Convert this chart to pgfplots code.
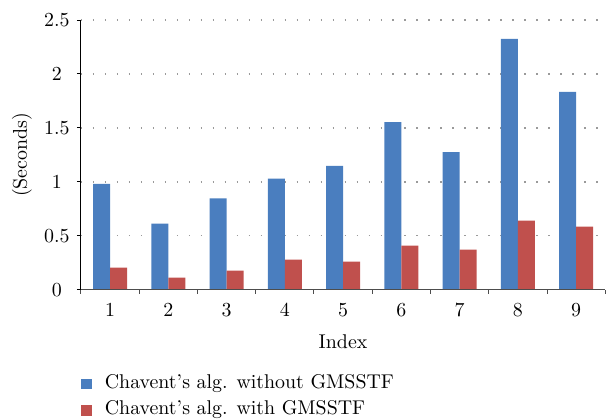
\documentclass[border=0pt]{standalone}
\usepackage{fontspec}
\setmainfont{lmroman10-regular.otf}
\usepackage{pgfplots}
\pgfplotsset{compat=1.18}
\definecolor{cblue}{HTML}{4A7EBF}
\definecolor{cred}{HTML}{C0504D}
\definecolor{cgrid}{HTML}{9A9A9A}
\definecolor{caxis}{HTML}{4D4D4D}
\newcommand{\bigf}{\fontsize{20}{24}\selectfont}
\pgfplotsset{myleg/.style={legend image code/.code={\fill[##1] (0bp,-5.5bp) rectangle (11bp,5.5bp);}}}
\begin{document}
\begin{tikzpicture}
\path (0,0) rectangle (606bp,419bp);
\begin{axis}[
  at={(81bp,129bp)}, anchor=south west,
  scale only axis, width=525bp, height=270bp,
  xmin=0.5, xmax=9.5, ymin=0, ymax=2.5,
  ybar=0pt, bar width=17bp,
  axis x line*=bottom, axis y line*=left,
  x axis line style={draw=caxis, line width=1.6bp, -},
  y axis line style={draw=black, line width=0.9bp, -},
  xtick={1,...,9},
  minor xtick={0.5,1.5,...,9.5},
  major x tick style={draw=none},
  minor x tick style={draw=caxis, line width=0.9bp},
  minor tick length=4bp,
  ytick={0,0.5,...,2.5},
  major y tick style={draw=black, line width=0.9bp},
  major tick length=4bp,
  tick align=outside,
  ymajorgrids,
  set layers=axis on top,
  major grid style={draw=cgrid, line width=1.6bp, dash pattern=on 1.6bp off 10.4bp, /pgfplots/on layer=axis background},
  /pgf/number format/assume math mode=true,
  ticklabel style={font=\bigf},
  yticklabel style={anchor=center, xshift=-20bp},
  xticklabel style={anchor=center, yshift=-16bp},
  xlabel={Index}, ylabel={(Seconds)},
  label style={font=\bigf},
  xlabel style={at={(rel axis cs:0.5,0)}, anchor=center, yshift=-52bp},
  ylabel style={at={(rel axis cs:0,0.5)}, anchor=center, yshift=59bp},
  legend style={at={(rel axis cs:0,0)}, anchor=north west, yshift=-86bp,
    draw=none, fill=none, inner sep=0pt, outer sep=0pt, row sep=9.5bp,
    font=\bigf, nodes={inner sep=0pt, text height=13bp, text depth=4bp},
    /tikz/every odd column/.append style={column sep=13bp}},
  legend cell align=left,
]
\addplot[draw=none, fill=cblue, myleg] coordinates {(1,0.981) (2,0.611) (3,0.846) (4,1.028) (5,1.148) (6,1.552) (7,1.275) (8,2.324) (9,1.833)};
\addplot[draw=none, fill=cred, myleg] coordinates {(1,0.204) (2,0.111) (3,0.176) (4,0.278) (5,0.259) (6,0.407) (7,0.370) (8,0.639) (9,0.583)};
\legend{Chavent's alg. without GMSSTF, Chavent's alg. with GMSSTF}
\end{axis}
\end{tikzpicture}
\end{document}
